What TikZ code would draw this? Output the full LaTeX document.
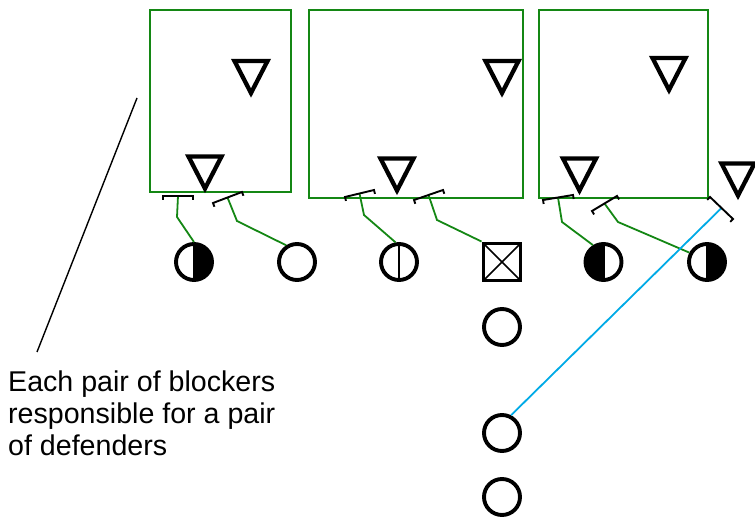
\documentclass[tikz,border=0pt]{standalone}
\usepackage{fontspec}
\setmainfont{Liberation Sans}
\usetikzlibrary{calc}
\definecolor{boxgreen}{RGB}{20,135,20}
\definecolor{routecyan}{RGB}{0,170,230}
\tikzset{
  zone/.style={draw=boxgreen, line width=1.5pt},
  defline/.style={draw=black, line width=4.3pt, line join=miter},
  pics/defender/.style={code={\draw[defline] (-16.5,-16) -- (16.5,-16) -- (0,16) -- cycle;}},
  player/.style={circle, draw=black, line width=3.9pt, minimum size=36pt, inner sep=0pt},
  snapbox/.style={rectangle, draw=black, line width=3.9pt, minimum size=37pt, inner sep=0pt,
    path picture={\draw[line width=1.6pt] (path picture bounding box.north west) -- (path picture bounding box.south east)
      (path picture bounding box.north east) -- (path picture bounding box.south west);}},
  halfright/.style={path picture={\fill (path picture bounding box.north) rectangle (path picture bounding box.south east);
      \draw[line width=2pt] (path picture bounding box.north) -- (path picture bounding box.south);}},
  halfleft/.style={path picture={\fill (path picture bounding box.north) rectangle (path picture bounding box.south west);
      \draw[line width=2pt] (path picture bounding box.north) -- (path picture bounding box.south);}},
  splitline/.style={path picture={\draw[line width=2.8pt] (path picture bounding box.north) -- (path picture bounding box.south);}},
  assign/.style={draw=boxgreen, line width=1.8pt},
  route/.style={draw=routecyan, line width=1.8pt},
  blockbar/.style={draw=black, line width=1.9pt},
  pointer/.style={draw=black, line width=1.4pt},
  notetext/.style={anchor=north west, inner sep=0pt, align=left, font=\fontsize{28.6}{32}\selectfont}
}
\newcommand{\blockmark}[2]{\draw[blockbar] ($(#1)!4pt!-90:(#2)$) -- (#1) -- (#2) -- ($(#2)!4pt!90:(#1)$);}
\begin{document}
\begin{tikzpicture}[x=1pt,y=-1pt]
\useasboundingbox (0,0) rectangle (755,518);
% zones
\draw[zone] (150,10) rectangle (291,192);
\draw[zone] (309,10) rectangle (523,198);
\draw[zone] (539,10) rectangle (708,198);
% defenders
\pic at (251,77) {defender};
\pic at (205,172.5) {defender};
\pic at (502,77) {defender};
\pic at (397,174.5) {defender};
\pic at (669,74) {defender};
\pic at (579.5,174.5) {defender};
\pic at (738,179.5) {defender};
% offensive players
\node[player, halfright] (c1) at (194,262) {};
\node[player] (c2) at (297,262) {};
\node[player, splitline] (c3) at (399,262) {};
\node[snapbox] (sq) at (502,262) {};
\node[player, halfleft] (c5) at (603.5,262) {};
\node[player, halfright] (c6) at (707,262) {};
\node[player] (b1) at (502,327) {};
\node[player] (b2) at (502,433) {};
\node[player] (b3) at (502,497) {};
% block marks
\coordinate (k1a) at (163,196); \coordinate (k1b) at (193,196);
\coordinate (k2a) at (213,203); \coordinate (k2b) at (242,192);
\coordinate (k3a) at (345,197); \coordinate (k3b) at (374,190);
\coordinate (k4a) at (414,200); \coordinate (k4b) at (443,190);
\coordinate (k5a) at (543,200); \coordinate (k5b) at (573,195);
\coordinate (k6a) at (592,211); \coordinate (k6b) at (617,196);
\coordinate (k7a) at (710,197); \coordinate (k7b) at (733,219);
\foreach \k in {1,...,7} {
  \coordinate (k\k m) at ($(k\k a)!0.5!(k\k b)$);
}
% bends
\coordinate (t1) at (177,217);
\coordinate (t2) at (237,221);
\coordinate (t3) at (364,215);
\coordinate (t4) at (437,220);
\coordinate (t5) at (562,222);
\coordinate (t6) at (618,222);
% assignment lines
\draw[assign] (k1m) -- (t1) -- (c1.north);
\draw[assign] (k2m) -- (t2) -- (c2.123);
\draw[assign] (k3m) -- (t3) -- (c3.100);
\draw[assign] (k4m) -- (t4) -- (sq.north west);
\draw[assign] (k5m) -- (t5) -- (c5.122);
\draw[assign] (k6m) -- (t6) -- (c6.152);
\draw[route] (k7m) -- (b2.63);
\foreach \k in {1,...,7} { \blockmark{k\k a}{k\k b} }
% note
\coordinate (p1) at (137,98);
\coordinate (p2) at (37,352);
\draw[pointer] (p1) -- (p2);
\node[notetext] (note) at (8,371) {Each pair of blockers\\responsible for a pair\\of defenders};
\end{tikzpicture}
\end{document}
